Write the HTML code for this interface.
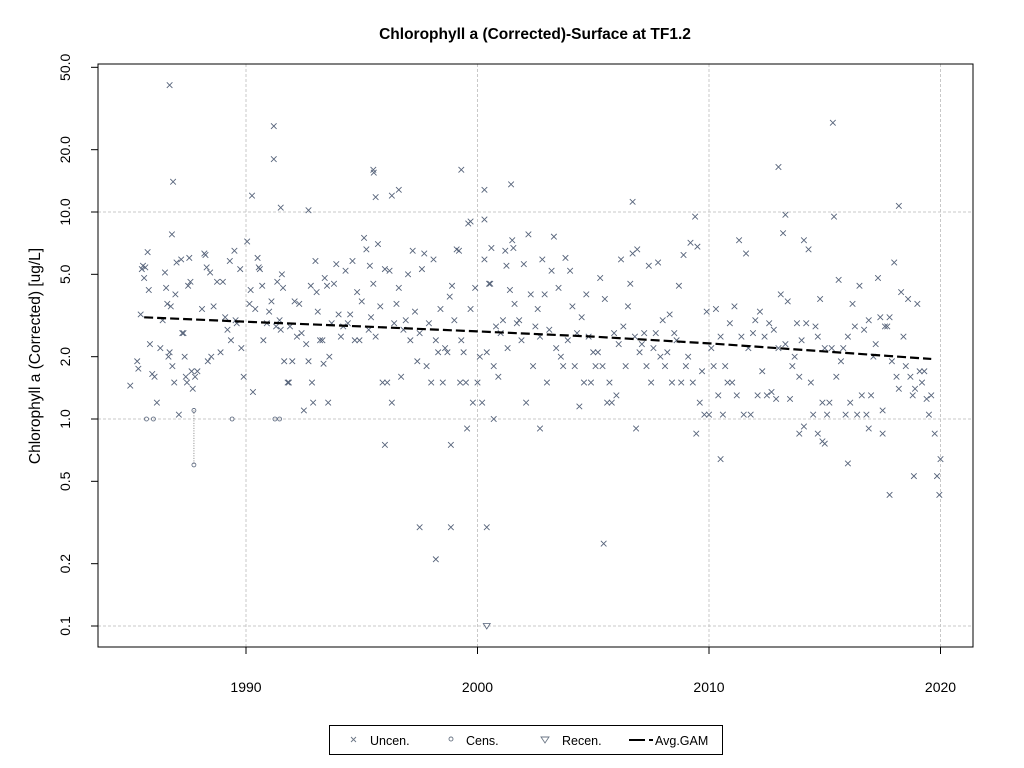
<!DOCTYPE html>
<html><head><meta charset="utf-8"><style>
html,body{margin:0;padding:0;background:#fff;}
svg{display:block;font-family:"Liberation Sans",Arial,sans-serif;}
</style></head><body>
<svg id="chart" width="1024" height="768" viewBox="0 0 1024 768">
<rect x="0" y="0" width="1024" height="768" fill="#fff"/>
<text x="535" y="39" text-anchor="middle" font-size="15.5" font-weight="bold">Chlorophyll a (Corrected)-Surface at TF1.2</text>
<text transform="translate(40,356) rotate(-90)" text-anchor="middle" font-size="15.5">Chlorophyll a (Corrected) [ug/L]</text>
<g id="grid"></g>
<g id="xaxis"></g>
<g id="yaxis"></g>
<g id="marks"></g>
<rect x="98" y="64" width="875" height="583" fill="none" stroke="#000" stroke-width="1"/>
<g>
<rect x="329.5" y="725.5" width="393" height="29" fill="#fff" stroke="#000"/>
<g>
<path d="M351,737 l5,5 M356,737 l-5,5" stroke="#6b7685" stroke-width="0.9"/>
<text x="370" y="745" font-size="12.5">Uncen.</text></g>
<g>
<circle cx="451" cy="739" r="2" fill="none" stroke="#6b7685" stroke-width="0.9"/>
<text x="466" y="745" font-size="12.5">Cens.</text></g>
<g>
<path d="M541,737 L549,737 L545,743 Z" fill="none" stroke="#6b7685" stroke-width="0.9"/>
<text x="562" y="745" font-size="12.5">Recen.</text></g>
<g>
<path d="M629,740 L645,740 M649,740 L653,740" stroke="#000" stroke-width="2"/>
<text x="655" y="745" font-size="12.5">Avg.GAM</text></g>
</g>
</svg>
<script>
const xTicks = [1990, 2000, 2010, 2020];
const yTicks = [0.1, 0.2, 0.5, 1, 2, 5, 10, 20, 50];
const yTickLabels = ["0.1", "0.2", "0.5", "1.0", "2.0", "5.0", "10.0", "20.0", "50.0"];
const yGridValues = [0.1, 1, 10];
const gamYears = [1985.6, 1990, 1995, 2000, 2005, 2010, 2015, 2019.6];
const gamValues = [3.1, 2.95, 2.8, 2.65, 2.5, 2.32, 2.12, 1.95];
const censPoints = [[1985.7,1.0],[1986.0,1.0],[1987.75,1.1],[1989.4,1.0],[1991.25,1.0],[1991.45,1.0]];
const censRangeLow = [[1987.75,0.6,1.1]];
const recenPoints = [[2000.4,0.1]];
const uncenPoints = [
[1986.7,41],[1986.85,14],[1991.2,26],[1991.2,18],[1991.5,10.5],[1990.26,12],[1992.7,10.2],[1995.5,16],[1995.52,15.5],[1995.6,11.8],[1996.3,12],[1996.6,12.8],[1999.3,16],[2000.3,12.8],[2001.45,13.6],[2006.7,11.2],[2013,16.5],[2015.35,27],[2015.4,9.5],[2018.2,10.7],[2013.3,9.7],[2009.4,9.5],[1999.7,9],[2000.3,9.2],
[1996,0.75],[1997.5,0.3],[1998.2,0.21],[1998.85,0.3],[1998.85,0.75],[1999.55,0.9],[2000.4,0.3],[2000.7,1.0],[2002.7,0.9],[2005.45,0.25],[2006.85,0.9],[2009.45,0.85],[2010.5,0.64],[2013.9,0.85],[2014.1,0.92],[2014.7,0.85],[2014.9,0.78],[2015,0.76],[2016,0.61],[2016.9,0.9],[2017.5,0.85],[2017.8,0.43],[2018.85,0.53],[2019.75,0.85],[2019.85,0.53],[2019.95,0.43],[2020.0,0.64],
[1985.0,1.45],[1985.3,1.9],[1985.35,1.75],[1985.45,3.2],[1985.5,5.3],[1985.55,5.5],[1985.6,4.8],[1985.65,5.4],[1985.75,6.4],[1985.8,4.2],[1985.85,2.3],[1985.95,1.65],[1986.05,1.6],[1986.15,1.2],[1986.3,2.2],
[1986.4,3.0],[1986.5,5.1],[1986.55,4.3],[1986.6,3.6],[1986.65,2.0],[1986.7,2.1],[1986.75,3.5],[1986.8,7.8],[1986.82,1.8],[1986.9,1.5],[1986.95,4.0],[1987.0,5.7],[1987.1,1.05],[1987.2,5.9],[1987.25,2.6],[1987.3,2.6],[1987.35,2.0],[1987.4,1.6],[1987.45,1.5],[1987.5,4.4],[1987.55,6.0],[1987.6,4.6],[1987.65,1.7],[1987.7,1.4],[1987.8,1.6],[1987.9,1.7],[1988.1,3.4],[1988.2,6.3],[1988.25,6.2],[1988.3,5.4],[1988.35,1.9],[1988.45,5.1],[1988.5,2.0],[1988.6,3.5],[1988.75,4.6],[1988.9,2.1],[1989.0,4.6],[1989.1,3.1],[1989.2,2.7],[1989.3,5.8],[1989.35,2.4],[1989.5,6.5],[1989.55,3.0],[1989.6,2.9],[1989.75,5.3],[1989.8,2.2],[1989.9,1.6],
[1990.05,7.2],[1990.15,3.6],[1990.2,4.2],[1990.3,1.35],[1990.4,3.4],[1990.5,6.0],[1990.55,5.4],[1990.6,5.3],[1990.7,4.4],[1990.75,2.4],[1990.9,2.9],[1991.0,3.3],[1991.1,3.7],[1991.3,2.8],[1991.35,4.6],[1991.45,3.0],[1991.5,2.7],[1991.55,5.0],[1991.6,4.3],[1991.65,1.9],[1991.8,1.5],[1991.85,1.5],[1991.9,2.8],[1992.0,1.9],[1992.1,3.7],[1992.2,2.5],[1992.3,3.6],[1992.4,2.6],[1992.5,1.1],[1992.6,2.3],[1992.7,1.9],[1992.8,4.4],[1992.85,1.5],[1992.9,1.2],[1993.0,5.8],[1993.05,4.1],[1993.1,3.3],[1993.2,2.4],[1993.3,2.4],[1993.35,1.85],[1993.4,4.8],[1993.5,4.4],[1993.55,1.2],[1993.6,2.0],[1993.7,2.9],[1993.8,4.5],[1993.9,5.6],[1994.0,3.2],[1994.1,2.5],[1994.2,2.8],[1994.3,5.2],[1994.4,2.9],[1994.5,3.2],[1994.6,5.8],[1994.7,2.4],[1994.8,4.1],[1994.9,2.4],
[1995.0,3.7],[1995.1,7.5],[1995.2,6.6],[1995.3,2.7],[1995.35,5.5],[1995.4,3.1],[1995.5,4.5],[1995.6,2.5],[1995.7,7.0],[1995.8,3.5],[1995.9,1.5],[1996.0,5.3],[1996.1,1.5],[1996.2,5.2],[1996.3,1.2],[1996.4,2.9],[1996.5,3.6],[1996.6,4.3],[1996.7,1.6],[1996.8,2.7],[1996.9,3.0],[1997.0,5.0],[1997.1,2.4],[1997.2,6.5],[1997.3,3.3],[1997.4,1.9],[1997.5,2.6],[1997.6,5.3],[1997.7,6.3],[1997.8,1.8],[1997.9,2.9],[1998.0,1.5],[1998.1,5.9],[1998.2,2.4],[1998.3,2.1],[1998.4,3.4],[1998.5,1.5],[1998.6,2.2],[1998.7,2.1],[1998.8,3.9],[1998.9,4.4],[1999.0,3.0],[1999.1,6.6],[1999.2,6.5],[1999.25,1.5],[1999.3,2.4],[1999.4,2.1],[1999.5,1.5],[1999.6,8.8],[1999.7,3.4],[1999.8,1.2],[1999.9,4.3],
[2000.0,1.5],[2000.1,2.0],[2000.2,1.2],[2000.3,5.9],[2000.4,2.1],[2000.5,4.5],[2000.55,4.5],[2000.6,6.7],[2000.7,1.8],[2000.8,2.8],[2000.9,1.6],[2001.0,2.6],[2001.1,3.0],[2001.2,6.5],[2001.25,5.5],[2001.3,2.2],[2001.4,4.2],[2001.5,7.3],[2001.55,6.7],[2001.6,3.6],[2001.7,2.9],[2001.8,3.0],[2001.9,2.4],[2002.0,5.6],[2002.1,1.2],[2002.2,7.8],[2002.3,4.0],[2002.4,1.8],[2002.5,2.8],[2002.6,3.4],[2002.7,2.5],[2002.8,5.9],[2002.9,4.0],[2003.0,1.5],[2003.1,2.7],[2003.2,5.2],[2003.3,7.6],[2003.4,2.2],[2003.5,4.3],[2003.6,2.0],[2003.7,1.8],[2003.8,6.0],[2003.9,2.4],[2004.0,5.2],[2004.1,3.5],[2004.2,1.8],[2004.3,2.6],[2004.4,1.15],[2004.5,3.1],[2004.6,1.5],[2004.7,4.0],[2004.8,2.5],[2004.9,1.5],
[2005.0,2.1],[2005.1,1.8],[2005.2,2.1],[2005.3,4.8],[2005.4,1.8],[2005.5,3.8],[2005.6,1.2],[2005.7,1.5],[2005.8,1.2],[2005.9,2.6],[2006.0,1.3],[2006.1,2.3],[2006.2,5.9],[2006.3,2.8],[2006.4,1.8],[2006.5,3.5],[2006.6,4.5],[2006.7,6.3],[2006.8,2.5],[2006.9,6.6],[2007.0,2.1],[2007.1,2.3],[2007.2,2.6],[2007.3,1.8],[2007.4,5.5],[2007.5,1.5],[2007.6,2.2],[2007.7,2.6],[2007.8,5.7],[2007.9,2.0],[2008.0,3.0],[2008.1,1.8],[2008.2,2.1],[2008.3,3.2],[2008.4,1.5],[2008.5,2.6],[2008.6,2.4],[2008.7,4.4],[2008.8,1.5],[2008.9,6.2],[2009.0,1.8],[2009.1,2.0],[2009.2,7.1],[2009.3,1.5],[2009.5,6.8],[2009.6,1.2],[2009.7,1.7],[2009.8,1.05],[2009.9,3.3],
[2010.0,1.05],[2010.1,2.2],[2010.2,1.8],[2010.3,3.4],[2010.4,1.3],[2010.5,2.5],[2010.6,1.05],[2010.7,1.8],[2010.8,1.5],[2010.9,2.9],[2011.0,1.5],[2011.1,3.5],[2011.2,1.3],[2011.3,7.3],[2011.4,2.5],[2011.5,1.05],[2011.6,6.3],[2011.7,2.2],[2011.8,1.05],[2011.9,2.6],[2012.0,3.0],[2012.1,1.3],[2012.2,3.3],[2012.3,1.7],[2012.4,2.5],[2012.5,1.3],[2012.6,2.9],[2012.7,1.35],[2012.8,2.7],[2012.9,1.25],[2013.0,2.2],[2013.1,4.0],[2013.2,7.9],[2013.3,2.3],[2013.4,3.7],[2013.5,1.25],[2013.6,1.8],[2013.7,2.0],[2013.8,2.9],[2013.9,1.6],[2014.0,2.4],[2014.1,7.3],[2014.2,2.9],[2014.3,6.6],[2014.4,1.5],[2014.5,1.05],[2014.6,2.8],[2014.7,2.5],[2014.8,3.8],[2014.9,1.2],
[2015.0,2.2],[2015.1,1.05],[2015.2,1.2],[2015.3,2.2],[2015.5,1.6],[2015.6,4.7],[2015.7,1.9],[2015.8,2.2],[2015.9,1.05],[2016.0,2.5],[2016.1,1.2],[2016.2,3.6],[2016.3,2.8],[2016.4,1.05],[2016.5,4.4],[2016.6,1.3],[2016.7,2.7],[2016.8,1.05],[2016.9,3.0],[2017.0,1.3],[2017.1,2.0],[2017.2,2.3],[2017.3,4.8],[2017.4,3.1],[2017.5,1.1],[2017.6,2.8],[2017.7,2.8],[2017.8,3.1],[2017.9,1.9],[2018.0,5.7],[2018.1,1.6],[2018.2,1.4],[2018.3,4.1],[2018.4,2.5],[2018.5,1.8],[2018.6,3.8],[2018.7,1.6],[2018.8,1.3],[2018.9,1.4],[2019.0,3.6],[2019.1,1.7],[2019.2,1.5],[2019.3,1.7],[2019.4,1.25],[2019.5,1.05],[2019.6,1.3]
];

const NS = "http://www.w3.org/2000/svg";
const PX0 = 98, PX1 = 973, PY0 = 64, PY1 = 647;
function xScale(yr){ return 246 + (yr - 1990) * 23.15; }
function yScale(v){ return 419 - 207 * Math.log10(v); }
function mk(tag, attrs, parent){
  const e = document.createElementNS(NS, tag);
  for (const k in attrs) e.setAttribute(k, attrs[k]);
  parent.appendChild(e); return e;
}
const grid = document.getElementById('grid');
const xa = document.getElementById('xaxis');
const ya = document.getElementById('yaxis');
const marks = document.getElementById('marks');

xTicks.forEach(t => {
  const x = xScale(t);
  const g = mk('line', {x1:x, x2:x, y1:PY0, y2:PY1, stroke:'#c8c8c8', 'stroke-dasharray':'3,2'}, grid);
  
  
  const tk = mk('line', {x1:x, x2:x, y1:PY1, y2:PY1+7, stroke:'#000'}, xa);
  
  
  const lb = mk('text', {x:x, y:692, 'text-anchor':'middle', 'font-size':'14'}, xa);
  lb.textContent = t;
  
  
});
yGridValues.forEach(v => {
  const y = yScale(v);
  const g = mk('line', {x1:PX0, x2:PX1, y1:y, y2:y, stroke:'#c8c8c8', 'stroke-dasharray':'3,2'}, grid);
  
  
});
yTicks.forEach((v, i) => {
  const y = yScale(v);
  const tk = mk('line', {x1:PX0-7, x2:PX0, y1:y, y2:y, stroke:'#000'}, ya);
  
  
  const lb = mk('text', {transform:'translate(70,'+y+') rotate(-90)', 'text-anchor':'middle', 'font-size':'14'}, ya);
  lb.textContent = yTickLabels[i];
  
  
});

const COL = '#56637a';
uncenPoints.forEach(p => {
  const x = xScale(p[0]), y = yScale(p[1]);
  const m = mk('path', {d:`M${x-2.8},${y-2.8}L${x+2.8},${y+2.8}M${x+2.8},${y-2.8}L${x-2.8},${y+2.8}`, stroke:COL, 'stroke-width':'0.9', fill:'none'}, marks);
  
  
});
censRangeLow.forEach(r => {
  const x = xScale(r[0]);
  const l = mk('line', {x1:x, x2:x, y1:yScale(r[2]), y2:yScale(r[1]), stroke:'#888', 'stroke-dasharray':'1,1.5'}, marks);
  
  
  const c = mk('circle', {cx:x, cy:yScale(r[1]), r:2, fill:'none', stroke:COL, 'stroke-width':'0.8'}, marks);
  
  
});
censPoints.forEach(p => {
  const c = mk('circle', {cx:xScale(p[0]), cy:yScale(p[1]), r:2, fill:'none', stroke:COL, 'stroke-width':'0.8'}, marks);
  
  
});
recenPoints.forEach(p => {
  const x = xScale(p[0]), y = yScale(p[1]);
  const t = mk('path', {d:`M${x-3.5},${y-2.5}L${x+3.5},${y-2.5}L${x},${y+3}Z`, fill:'none', stroke:COL, 'stroke-width':'0.8'}, marks);
  
  
});
const gd = gamYears.map((yr, i) => (i ? 'L' : 'M') + xScale(yr) + ',' + yScale(gamValues[i])).join('');
const gam = mk('path', {d:gd, fill:'none', stroke:'#000', 'stroke-width':'2.2', 'stroke-dasharray':'9,4'}, marks);


</script>
</body></html>
